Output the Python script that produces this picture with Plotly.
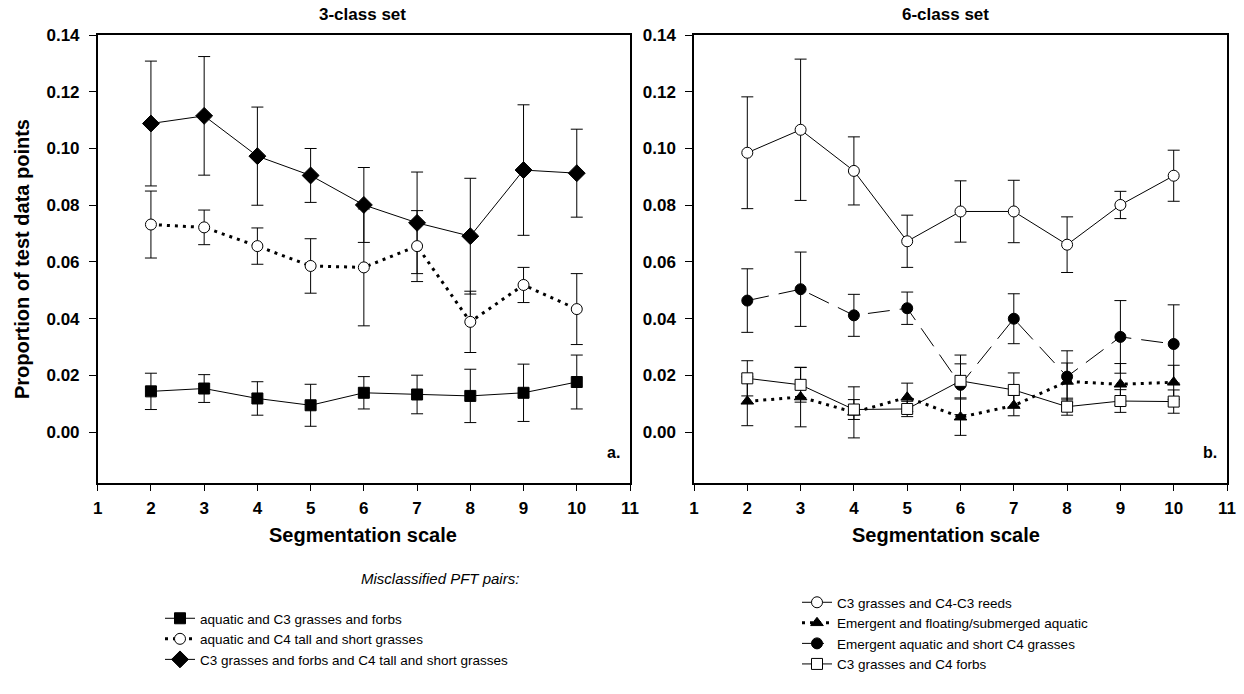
import plotly.graph_objects as go

# ---------------- data ----------------
seg_scale = [2, 3, 4, 5, 6, 7, 8, 9, 10]

# 3-class set (panel a)
aq_c3 = [0.0144, 0.0154, 0.0119, 0.0095, 0.0139, 0.0133, 0.0128, 0.0139, 0.0177]
aq_c3_err = [0.0064, 0.0049, 0.0059, 0.0074, 0.0057, 0.0068, 0.0094, 0.0101, 0.0095]
aq_c4 = [0.0732, 0.0722, 0.0656, 0.0586, 0.0581, 0.0656, 0.0389, 0.0519, 0.0434]
aq_c4_err = [0.0118, 0.0061, 0.0064, 0.0096, 0.0206, 0.0125, 0.0108, 0.0062, 0.0125]
c3_c4 = [0.1088, 0.1115, 0.0973, 0.0905, 0.0801, 0.0738, 0.0691, 0.0924, 0.0913]
c3_c4_err = [0.0220, 0.0209, 0.0173, 0.0095, 0.0132, 0.0179, 0.0204, 0.0230, 0.0155]

# 6-class set (panel b)
c3_reeds = [0.0985, 0.1066, 0.0921, 0.0673, 0.0778, 0.0778, 0.0661, 0.0801, 0.0904]
c3_reeds_err = [0.0197, 0.0249, 0.0120, 0.0092, 0.0108, 0.0110, 0.0098, 0.0048, 0.0090]
em_float = [0.0109, 0.0124, 0.0070, 0.0123, 0.0053, 0.0094, 0.0179, 0.0169, 0.0176]
em_float_err = [0.0086, 0.0105, 0.0090, 0.0050, 0.0064, 0.0036, 0.0065, 0.0073, 0.0060]
em_c4 = [0.0464, 0.0504, 0.0412, 0.0437, 0.0167, 0.0400, 0.0196, 0.0336, 0.0311]
em_c4_err = [0.0112, 0.0131, 0.0074, 0.0057, 0.0105, 0.0088, 0.0091, 0.0128, 0.0138]
c3_forbs = [0.0190, 0.0167, 0.0080, 0.0082, 0.0181, 0.0149, 0.0090, 0.0110, 0.0108]
c3_forbs_err = [0.0062, 0.0061, 0.0035, 0.0027, 0.0060, 0.0060, 0.0030, 0.0040, 0.0041]

x_ticks = [1, 2, 3, 4, 5, 6, 7, 8, 9, 10, 11]
y_ticks = [0.00, 0.02, 0.04, 0.06, 0.08, 0.10, 0.12, 0.14]
y_tick_text = ["0.00", "0.02", "0.04", "0.06", "0.08", "0.10", "0.12", "0.14"]

# ---------------- styling ----------------
W, H = 1244, 694
FONT = "Liberation Sans, Arial, sans-serif"
NARROW = "Liberation Sans Narrow, Arial Narrow, Liberation Sans, sans-serif"
BLACK = "#000000"


def px_x(p):
    return p / W


def px_y(p):
    return 1 - p / H


fig = go.Figure()


def add_series(x_axis, y_axis, vals, errs, name, symbol, fill, dash, lw, legend, rank):
    fig.add_trace(go.Scatter(
        x=seg_scale, y=vals, name=name, mode="lines+markers",
        xaxis=x_axis, yaxis=y_axis, legend=legend, legendrank=rank,
        line=dict(color=BLACK, width=lw, dash=dash),
        marker=dict(symbol=symbol, size=11 if symbol != "diamond" else 13,
                    color=fill, line=dict(color=BLACK, width=1)),
        error_y=dict(type="data", array=errs, visible=True,
                     color=BLACK, thickness=1, width=6),
    ))


DOT = "3px,5px"
DASH = "22px,10px"

# panel a
add_series("x", "y", c3_c4, c3_c4_err,
           "C3 grasses and forbs and C4 tall and short grasses",
           "diamond", BLACK, "solid", 1, "legend", 3)
add_series("x", "y", aq_c4, aq_c4_err,
           "aquatic and C4 tall and short grasses",
           "circle", "white", DOT, 3, "legend", 2)
add_series("x", "y", aq_c3, aq_c3_err,
           "aquatic and C3 grasses and forbs",
           "square", BLACK, "solid", 1, "legend", 1)

# panel b
add_series("x2", "y2", c3_reeds, c3_reeds_err,
           "C3 grasses and C4-C3 reeds",
           "circle", "white", "solid", 1, "legend2", 1)
add_series("x2", "y2", em_c4, em_c4_err,
           "Emergent aquatic and short C4 grasses",
           "circle", BLACK, DASH, 1, "legend2", 3)
add_series("x2", "y2", em_float, em_float_err,
           "Emergent and floating/submerged aquatic",
           "triangle-up", BLACK, DOT, 3, "legend2", 2)
add_series("x2", "y2", c3_forbs, c3_forbs_err,
           "C3 grasses and C4 forbs",
           "square", "white", "solid", 1, "legend2", 4)

xaxis_common = dict(
    range=[1, 11], tickvals=x_ticks, ticks="outside", ticklen=6, tickwidth=1,
    tickcolor=BLACK, showline=True, linecolor=BLACK, linewidth=1.5, mirror=True,
    showgrid=False, zeroline=False, ticklabelstandoff=3,
    tickfont=dict(family=FONT, size=17, color=BLACK, weight="bold"),
)
yaxis_common = dict(
    range=[-0.018, 0.14], tickvals=y_ticks, ticktext=y_tick_text, ticks="outside",
    ticklen=7, tickwidth=1, tickcolor=BLACK, showline=True, linecolor=BLACK,
    linewidth=1.5, mirror=True, showgrid=False, zeroline=False,
    ticklabelstandoff=6,
    tickfont=dict(family=FONT, size=17, color=BLACK, weight="bold"),
    domain=[px_y(483.3), px_y(35)],
)

fig.update_layout(
    width=W, height=H,
    margin=dict(l=0, r=0, t=0, b=0, autoexpand=False),
    paper_bgcolor="white", plot_bgcolor="white",
    font=dict(family=FONT, color=BLACK),
    xaxis=dict(xaxis_common, domain=[px_x(97.7), px_x(630)], anchor="y"),
    yaxis=dict(yaxis_common, anchor="x"),
    xaxis2=dict(xaxis_common, domain=[px_x(694), px_x(1227)], anchor="y2"),
    yaxis2=dict(yaxis_common, anchor="x2"),
    showlegend=True,
    legend=dict(x=px_x(160), y=px_y(603), xanchor="left", yanchor="top",
                bgcolor="rgba(0,0,0,0)", tracegroupgap=0,
                font=dict(family=NARROW, size=13.5, color=BLACK)),
    legend2=dict(x=px_x(797), y=px_y(587), xanchor="left", yanchor="top",
                 bgcolor="rgba(0,0,0,0)", tracegroupgap=0,
                 font=dict(family=NARROW, size=13.5, color=BLACK)),
)

annotations = [
    dict(text="3-class set", x=px_x(362), y=px_y(14), size=17),
    dict(text="6-class set", x=px_x(946), y=px_y(14), size=17),
    dict(text="Segmentation scale", x=px_x(363), y=px_y(535), size=20),
    dict(text="Segmentation scale", x=px_x(946), y=px_y(535), size=20),
]
for a in annotations:
    fig.add_annotation(
        text=a["text"], x=a["x"], y=a["y"], xref="paper", yref="paper",
        xanchor="center", yanchor="middle", showarrow=False,
        font=dict(family=FONT, size=a["size"], color=BLACK, weight="bold"),
    )

fig.add_annotation(
    text="Proportion of test data points", x=px_x(22), y=px_y(259),
    xref="paper", yref="paper", textangle=-90, showarrow=False,
    xanchor="center", yanchor="middle",
    font=dict(family=FONT, size=20, color=BLACK, weight="bold"),
)
fig.add_annotation(text="a.", x=0.985, y=0.045, xref="x domain", yref="y domain",
                   xanchor="right", yanchor="bottom", showarrow=False,
                   font=dict(family=FONT, size=16, color=BLACK, weight="bold"))
fig.add_annotation(text="b.", x=0.985, y=0.045, xref="x2 domain", yref="y2 domain",
                   xanchor="right", yanchor="bottom", showarrow=False,
                   font=dict(family=FONT, size=16, color=BLACK, weight="bold"))
fig.add_annotation(text="Misclassified PFT pairs:", x=px_x(440), y=px_y(578),
                   xref="paper", yref="paper", xanchor="center", yanchor="middle",
                   showarrow=False,
                   font=dict(family=NARROW, size=15, color=BLACK, style="italic"))

fig.write_html(
    "out.html",
    config={"displayModeBar": False},
    post_script="document.body.style.margin='0px';document.body.style.overflow='hidden';",
)
